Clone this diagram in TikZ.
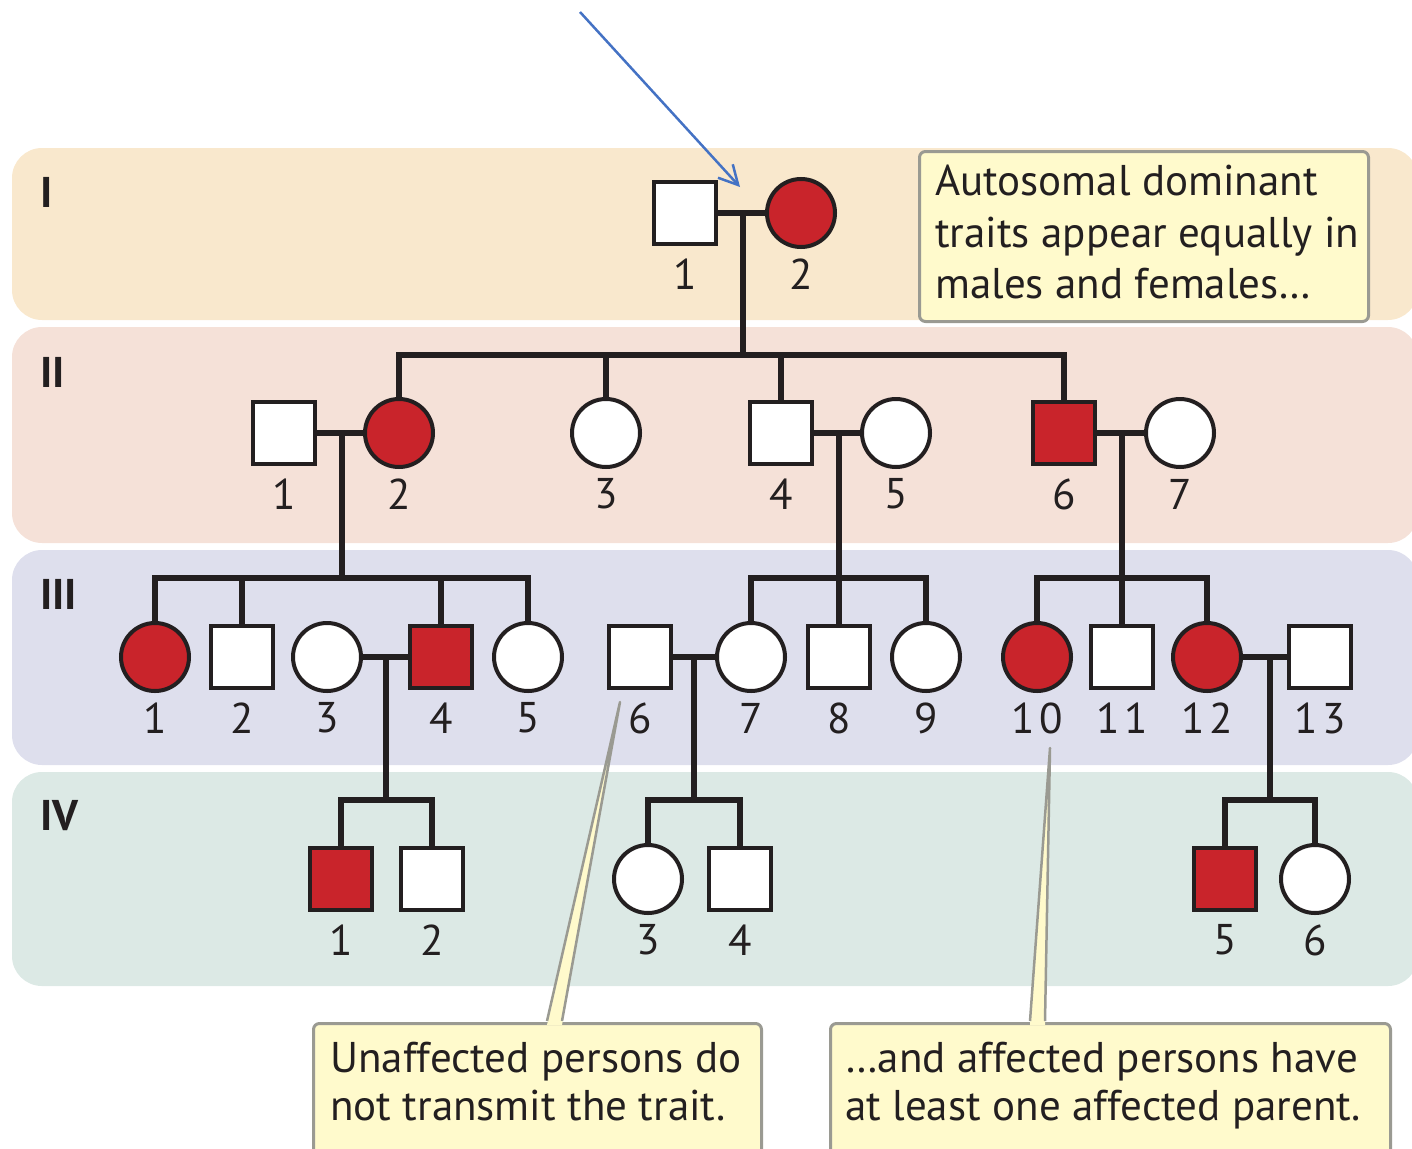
\documentclass[tikz,border=0pt]{standalone}
\usepackage{fontspec}
\setmainfont{PT Sans}
\newfontfamily\callfont[FakeStretch=1.0]{PT Sans}
\newfontfamily\numfont[LetterSpace=10]{PT Sans}
\usetikzlibrary{arrows.meta,calc}

\definecolor{pedline}{HTML}{231F20}
\definecolor{affred}{HTML}{C9242B}
\definecolor{bandI}{HTML}{F9E8CD}
\definecolor{bandII}{HTML}{F5E1D8}
\definecolor{bandIII}{HTML}{DEDFED}
\definecolor{bandIV}{HTML}{DCE9E5}
\definecolor{callfill}{HTML}{FFFACC}
\definecolor{callgray}{HTML}{9A9A92}
\definecolor{arrowblue}{HTML}{4472C4}

% one individual: symbol node plus its number underneath
\newcommand\pers[5]{%
  \node[#2] (#1) at (#3,#4) {};
  \node[num] (#1n) at (#3,#4+61) {#5};}

\begin{document}
\begin{tikzpicture}[x=1pt,y=-1pt,
  male/.style={rectangle,draw=pedline,fill=white,line width=4pt,minimum size=62pt,inner sep=0pt},
  female/.style={circle,draw=pedline,fill=white,line width=4pt,minimum size=68pt,inner sep=0pt},
  aff/.style={fill=affred},
  num/.style={font=\numfont\fontsize{43}{50}\selectfont,text=pedline,inner sep=0pt},
  gen/.style={font=\fontsize{43}{50}\selectfont\bfseries,text=pedline,anchor=west,inner sep=0pt},
  link/.style={draw=pedline,line width=6pt},
  band/.style={rounded corners=30pt},
  callbox/.style={draw=callgray,fill=callfill,line width=3pt,rounded corners=6pt,inner sep=0pt},
  calltext/.style={font=\callfont\fontsize{43}{50}\selectfont,text=pedline,anchor=base west,inner sep=0pt},
  pointer/.style={draw=callgray,line width=2.5pt,line join=round}
]
\useasboundingbox (0,0) rectangle (1412,1148);

% generation bands
\fill[bandI,band]   (12,148) rectangle (1418,320);
\fill[bandII,band]  (12,327) rectangle (1418,543);
\fill[bandIII,band] (12,550) rectangle (1418,765);
\fill[bandIV,band]  (12,772) rectangle (1418,986);

\node[gen] (gI)   at (40,192) {I};
\node[gen] (gII)  at (40,372) {II};
\node[gen] (gIII) at (40,594) {III};
\node[gen] (gIV)  at (40,816) {IV};

% sibship line heights
\coordinate (sII)  at (0,355);
\coordinate (sIII) at (0,578);
\coordinate (sIV)  at (0,800);

% generation I
\pers{I1}{male}{685}{213}{1}
\pers{I2}{female,aff}{801}{213}{2}

% generation II
\pers{II1}{male}{284}{433}{1}
\pers{II2}{female,aff}{399}{433}{2}
\pers{II3}{female}{606}{433}{3}
\pers{II4}{male}{781}{433}{4}
\pers{II5}{female}{896}{433}{5}
\pers{II6}{male,aff}{1064}{433}{6}
\pers{II7}{female}{1180}{433}{7}

% generation III
\pers{III1}{female,aff}{155}{657}{1}
\pers{III2}{male}{242}{657}{2}
\pers{III3}{female}{327}{657}{3}
\pers{III4}{male,aff}{441}{657}{4}
\pers{III5}{female}{528}{657}{5}
\pers{III6}{male}{640}{657}{6}
\pers{III7}{female}{751}{657}{7}
\pers{III8}{male}{839}{657}{8}
\pers{III9}{female}{926}{657}{9}
\pers{III10}{female,aff}{1037}{657}{10}
\pers{III11}{male}{1122}{657}{11}
\pers{III12}{female,aff}{1207}{657}{12}
\pers{III13}{male}{1320}{657}{13}

% generation IV
\pers{IV1}{male,aff}{341}{879}{1}
\pers{IV2}{male}{432}{879}{2}
\pers{IV3}{female}{648}{879}{3}
\pers{IV4}{male}{740}{879}{4}
\pers{IV5}{male,aff}{1225}{879}{5}
\pers{IV6}{female}{1315}{879}{6}

% matings
\draw[link] (I1) -- (I2);
\draw[link] (II1) -- (II2);
\draw[link] (II4) -- (II5);
\draw[link] (II6) -- (II7);
\draw[link] (III3) -- (III4);
\draw[link] (III6) -- (III7);
\draw[link] (III12) -- (III13);

\coordinate (mI)     at ($(I1)!0.5!(I2)$);
\coordinate (mII12)  at ($(II1)!0.5!(II2)$);
\coordinate (mII45)  at ($(II4)!0.5!(II5)$);
\coordinate (mII67)  at ($(II6)!0.5!(II7)$);
\coordinate (mIII34) at ($(III3)!0.52!(III4)$);
\coordinate (mIII67) at ($(III6)!0.49!(III7)$);
\coordinate (mIII1213) at ($(III12)!0.555!(III13)$);

% offspring of I-1 x I-2
\draw[link] (mI) -- (mI |- sII);
\draw[link] (II2) -- (II2 |- sII) -| (II6);
\draw[link] (II3) -- (II3 |- sII);
\draw[link] (II4) -- (II4 |- sII);

% offspring of II-1 x II-2
\draw[link] (mII12) -- (mII12 |- sIII);
\draw[link] (III1) -- (III1 |- sIII) -| (III5);
\draw[link] (III2) -- (III2 |- sIII);
\draw[link] (III4) -- (III4 |- sIII);

% offspring of II-4 x II-5
\draw[link] (mII45) -- (mII45 |- sIII);
\draw[link] (III7) -- (III7 |- sIII) -| (III9);
\draw[link] (III8) -- (III8 |- sIII);

% offspring of II-6 x II-7
\draw[link] (mII67) -- (mII67 |- sIII);
\draw[link] (III10) -- (III10 |- sIII) -| (III12);
\draw[link] (III11) -- (III11 |- sIII);

% offspring in generation IV
\draw[link] (mIII34) -- (mIII34 |- sIV);
\draw[link] (IV1) -- (IV1 |- sIV) -| (IV2);
\draw[link] (mIII67) -- (mIII67 |- sIV);
\draw[link] (IV3) -- (IV3 |- sIV) -| (IV4);
\draw[link] (mIII1213) -- (mIII1213 |- sIV);
\draw[link] (IV5) -- (IV5 |- sIV) -| (IV6);

% callout: top right
\node[callbox,anchor=north west,minimum width=449pt,minimum height=170pt] (boxA) at (918,150) {};
\node[calltext] (A1) at (935,195) {Autosomal dominant};
\node[calltext] (A2) at (935,247) {traits appear equally in};
\node[calltext] (A3) at (935,298) {males and females\ldots};

% callout: bottom left
\node[callbox,anchor=north west,minimum width=448pt,minimum height=160pt] (boxB) at (312,1022) {};
\node[calltext] (B1) at (330,1072) {Unaffected persons do};
\node[calltext] (B2) at (330,1120) {not transmit the trait.};
\coordinate (tipB) at (620,702);
\coordinate (bBl) at (547,1021);
\coordinate (bBr) at (562,1021);
\fill[callfill] (tipB) -- ($(bBl)+(0,4)$) -- ($(bBr)+(0,4)$) -- cycle;
\draw[pointer] (bBl) -- (tipB) -- (bBr);

% callout: bottom right
\node[callbox,anchor=north west,minimum width=560pt,minimum height=160pt] (boxC) at (829,1022) {};
\node[calltext] (C1) at (845,1072) {\ldots and affected persons have};
\node[calltext] (C2) at (845,1120) {at least one affected parent.};
\coordinate (tipC) at (1050,748);
\coordinate (bCl) at (1030,1021);
\coordinate (bCr) at (1045,1021);
\fill[callfill] (tipC) -- ($(bCl)+(0,4)$) -- ($(bCr)+(0,4)$) -- cycle;
\draw[pointer] (bCl) -- (tipC) -- (bCr);

% arrow pointing at the first mating
\coordinate (arrTail) at (580,12);
\coordinate (arrTip) at (740,187);
\draw[arrowblue,line width=2.5pt,-{Straight Barb[length=19pt,width=20pt,line width=2.5pt]}] (arrTail) -- (arrTip);
\end{tikzpicture}
\end{document}
